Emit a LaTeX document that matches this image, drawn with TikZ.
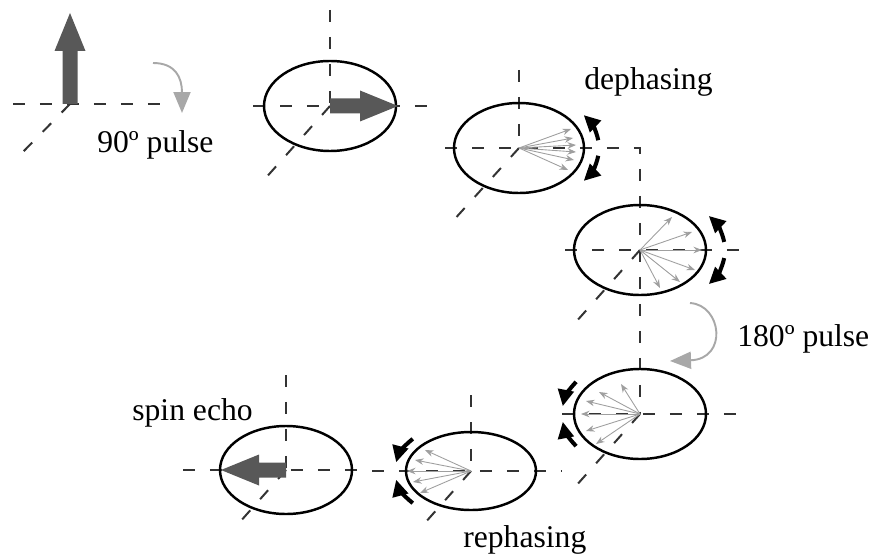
\documentclass[tikz,border=0pt]{standalone}
\usepackage{fontspec}
\setmainfont{Liberation Serif}
\usetikzlibrary{arrows.meta, calc}
\definecolor{spingray}{HTML}{585858}
\definecolor{pulsegray}{HTML}{A8A8A8}
\tikzset{
  axis/.style     = {dash pattern=on 0.24cm off 0.3cm, line width=0.04cm, black!80},
  ring/.style     = {draw, line width=1.4pt, black},
  spin/.style     = {-{Stealth[length=1.7mm, width=1.3mm]}, line width=0.5pt, gray!75},
  twirl/.style    = {-{Triangle[length=3.3mm, width=3.1mm]}, line width=2.3pt, black},
  pulse/.style    = {-{Triangle[length=0.42cm, width=0.34cm]}, line width=1.1pt, pulsegray},
  lbl/.style      = {font=\fontsize{18}{20}\selectfont, anchor=base west, inner sep=0pt},
}
% thick magnetisation arrow: centre, angle, length
\newcommand{\bigspin}[3]{%
  \fill[spingray, shift={(#1)}, rotate=#2]
    (0,-7.5) -- (#3-38,-7.5) -- (#3-38,-15.5) -- (#3,0)
    -- (#3-38,15.5) -- (#3-38,7.5) -- (0,7.5) -- cycle;
}
% fan of spin vectors from a centre
\newcommand{\fan}[2]{%
  \foreach \dx/\dy in {#2} \draw[spin] (#1) -- ++(\dx,\dy);
}
% curved arrow just outside a ring: centre, radii, start, end angle
\newcommand{\twist}[5]{%
  \draw[twirl] ($(#1)+(#4:#2 and #3)$) arc[start angle=#4, end angle=#5, x radius=#2, y radius=#3];
}

\begin{document}
\begin{tikzpicture}[x=0.02cm, y=0.02cm]
  \useasboundingbox (0,0) rectangle (874,555);

  % centres of the frames
  \coordinate (c0) at (70,451);
  \coordinate (c2) at (330,449);
  \coordinate (c3) at (519,407);
  \coordinate (c4) at (640,305);
  \coordinate (c5) at (640,141);
  \coordinate (c6) at (471,84);
  \coordinate (c7) at (286,85);

  % equilibrium
  \draw[axis] (13,451) -- (162,451);
  \draw[axis] (c0) -- (18,398);
  \bigspin{c0}{90}{91}
  \draw[pulse] (153,492) .. controls (175,492) and (182,478) .. (182,442);
  \node[lbl] (p90) at (97,402) {90º pulse};

  % after the 90 pulse
  \draw[axis] (330,545) -- (c2);
  \draw[axis] (253,449) -- (428,449);
  \draw[axis] (c2) -- (263,374);
  \draw[ring] (c2) ellipse [x radius=66, y radius=45];
  \bigspin{c2}{0}{68}

  % dephasing
  \draw[axis] (519,485) -- (c3);
  \draw[axis] (445,407) -- (640,407) -- (640,141);
  \draw[axis] (c3) -- (452,333);
  \draw[ring] (c3) ellipse [x radius=65, y radius=45];
  \fan{c3}{52/19, 54/10, 57/3, 57/-4, 55/-12, 49/-22}
  \twist{c3}{80}{56}{8}{36}
  \twist{c3}{80}{56}{-8}{-36}
  \node[lbl] (deph) at (584,465) {dephasing};

  \draw[axis] (565,305) -- (740,305);
  \draw[axis] (c4) -- (575,232);
  \draw[ring] (c4) ellipse [x radius=66, y radius=45];
  \fan{c4}{32/33, 52/18, 62/0, 55/-20, 40/-32, 20/-38}
  \twist{c4}{85}{58}{8}{36}
  \twist{c4}{85}{58}{-8}{-36}

  % 180 pulse
  \draw[pulse] (690,252) .. controls (722,250) and (728,196) .. (670,194);
  \node[lbl] (p180) at (737,209) {180º pulse};

  % rephasing
  \draw[axis] (562,141) -- (740,141);
  \draw[axis] (c5) -- (575,68);
  \draw[ring] (c5) ellipse [x radius=66, y radius=45];
  \fan{c5}{-19/30, -41/22, -54/13, -59/0, -54/-17, -44/-30}
  \twist{c5}{78}{56}{145}{172}
  \twist{c5}{78}{56}{215}{188}

  \draw[axis] (471,160) -- (c6);
  \draw[axis] (372,84) -- (562,84);
  \draw[axis] (c6) -- (424,31);
  \draw[ring] (c6) ellipse [x radius=65, y radius=39];
  \fan{c6}{-46/21, -56/11, -64/0, -58/-11, -51/-22}
  \twist{c6}{76}{50}{140}{170}
  \twist{c6}{76}{50}{220}{190}
  \node[lbl] (reph) at (463,8) {rephasing};

  % echo
  \draw[axis] (286,180) -- (c7);
  \draw[axis] (183,85) -- (357,85);
  \draw[axis] (c7) -- (239,32);
  \draw[ring] (c7) ellipse [x radius=66, y radius=44];
  \bigspin{c7}{180}{65}
  \node[lbl] (echo) at (132,135) {spin echo};
\end{tikzpicture}
\end{document}
